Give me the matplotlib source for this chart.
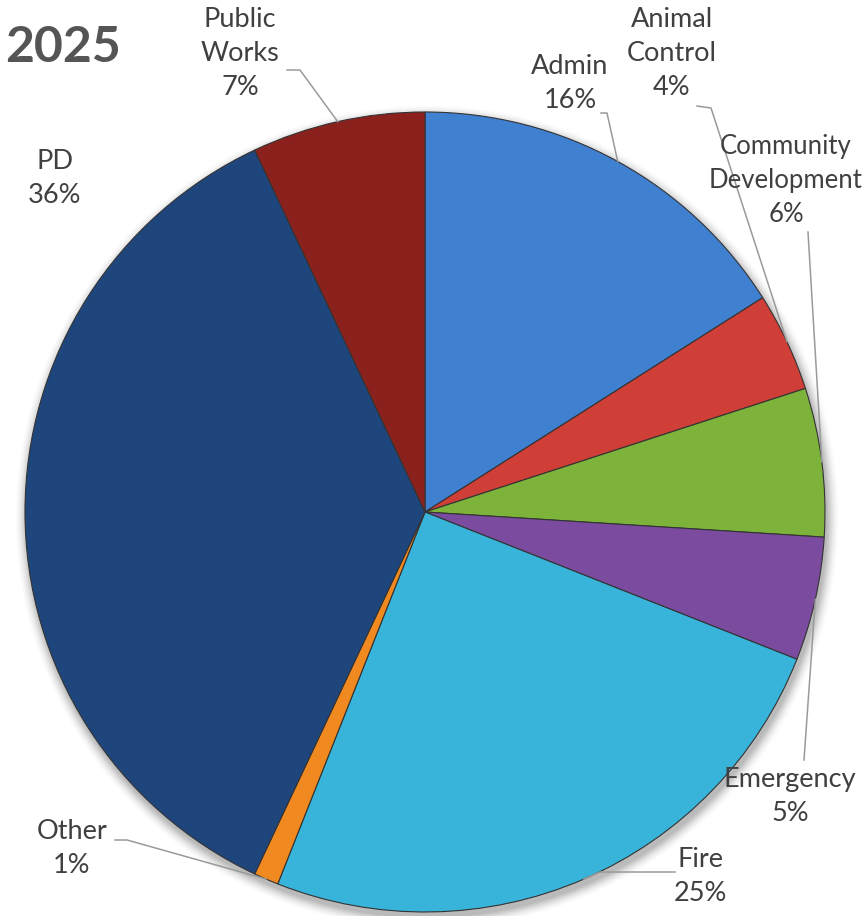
import matplotlib
matplotlib.use("Agg")
import matplotlib.pyplot as plt
import numpy as np
from matplotlib.patches import Circle

# ---- data ----
categories = ["Admin", "Animal\nControl", "Community\nDevelopment", "Emergency",
              "Fire", "Other", "PD", "Public\nWorks"]
shares = [16, 4, 6, 5, 25, 1, 36, 7]
colors = ["#3f80d0", "#cf3e37", "#7db33a", "#7a4b9f",
          "#38b4da", "#f0891f", "#1f467c", "#8b211d"]
title = "2025"

W, H = 866, 916
fig = plt.figure(figsize=(W / 100, H / 100), dpi=100)
ax = fig.add_axes([0, 0, 1, 1])

def Y(y):
    return H - y

cx, cy, R = 425, 512, 400

wedges, _ = ax.pie(shares, colors=colors, startangle=90, counterclock=False,
                   radius=R, center=(cx, Y(cy)),
                   wedgeprops=dict(edgecolor="#333333", linewidth=0.8))
for w in wedges:
    w.set_zorder(2)

ax.set_xlim(0, W)
ax.set_ylim(0, H)
ax.set_aspect("equal")
ax.axis("off")

# soft shadow
for i, a in enumerate(np.linspace(0.06, 0.012, 8)):
    ax.add_patch(Circle((cx + 2, Y(cy + 5)), R + 1 + i * 1.5, color="black",
                        alpha=a, lw=0, zorder=0))

font = ["Lato", "DejaVu Sans"]
tc = "#404040"
fs = 19.5

# label layout: (text center x, top y), leader polyline start points (pixel coords)
layout = {
    0: ((570, 54), [(601, 113), (607, 113)]),
    1: ((672, 7), [(697, 106), (711, 108)]),
    2: ((786, 134), [(808, 232)]),
    3: ((790, 767), [(804, 760)]),
    4: ((700, 847), [(675, 872), (600, 872)]),
    5: ((72, 819), [(115, 840), (127, 840)]),
    6: ((55, 149), []),
    7: ((240, 7), [(287, 70), (300, 70)]),
}

for i, w in enumerate(wedges):
    (tx, ty), pts = layout[i]
    pct = f"{shares[i]}%"
    size = fs if i != 2 else 18.5
    ax.text(tx, Y(ty), f"{categories[i]}\n{pct}", ha="center", va="top",
            fontsize=size, color=tc, family=font, linespacing=1.45, zorder=5)
    if pts:
        mid = np.deg2rad((w.theta1 + w.theta2) / 2)
        ex = cx + R * np.cos(mid)
        ey = Y(cy) + R * np.sin(mid)
        xs = [p[0] for p in pts] + [ex]
        ys = [Y(p[1]) for p in pts] + [ey]
        ax.plot(xs, ys, color="#9a9a9a", lw=1.1, zorder=4)

ax.text(5, Y(48), title, ha="left", va="center", fontsize=36, fontweight="bold",
        color="#555555", family=font)

fig.savefig("out.png", dpi=100, facecolor="white")
